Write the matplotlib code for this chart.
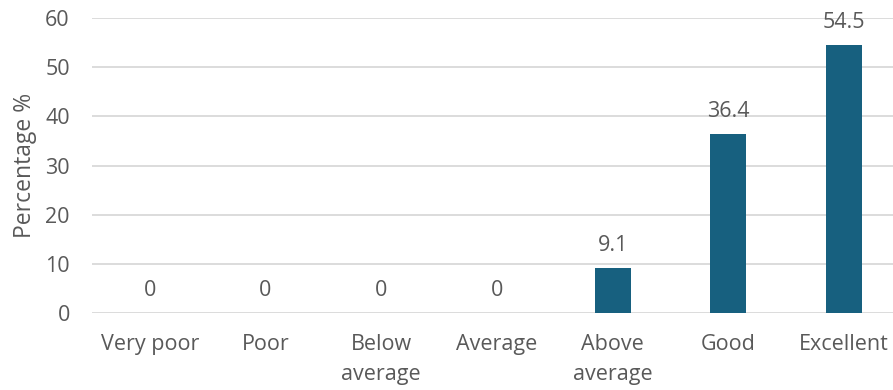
import matplotlib
matplotlib.use("Agg")
import matplotlib.pyplot as plt

categories = ["Very poor", "Poor", "Below\naverage", "Average", "Above\naverage", "Good", "Excellent"]
percentages = [0, 0, 0, 0, 9.1, 36.4, 54.5]
y_ticks = [0, 10, 20, 30, 40, 50, 60]

plt.rcParams["font.family"] = ["Open Sans", "DejaVu Sans"]
text_color = "#595959"
bar_color = "#17607F"
grid_color = "#D9D9D9"

fig = plt.figure(figsize=(8.93, 3.9), dpi=100)
ax = fig.add_axes([0.103, 0.1974, 0.907, 0.7564])

x = list(range(len(categories)))
bars = ax.bar(x, percentages, width=0.31, color=bar_color, zorder=3)

for xi, v in zip(x, percentages):
    label = f"{v:g}"
    ax.annotate(label, (xi, v), xytext=(0, 9), textcoords="offset points",
                ha="center", va="bottom", fontsize=15.5, color=text_color)

ax.set_xlim(-0.5, len(categories) - 0.5)
ax.set_ylim(0, 60)
ax.set_yticks(y_ticks)
ax.set_xticks(x)
ax.set_xticklabels(categories, linespacing=1.6)

ax.yaxis.grid(True, color=grid_color, linewidth=1.3, zorder=0)
ax.set_axisbelow(True)
for spine in ax.spines.values():
    spine.set_visible(False)

ax.tick_params(axis="both", length=0, labelsize=15.5, labelcolor=text_color)
ax.tick_params(axis="y", pad=16)
ax.tick_params(axis="x", pad=15)
for lbl in ax.get_xticklabels():
    lbl.set_verticalalignment("top")

ax.set_ylabel("Percentage %", fontsize=16.5, color=text_color, labelpad=6)

fig.savefig("out.png", dpi=100)
